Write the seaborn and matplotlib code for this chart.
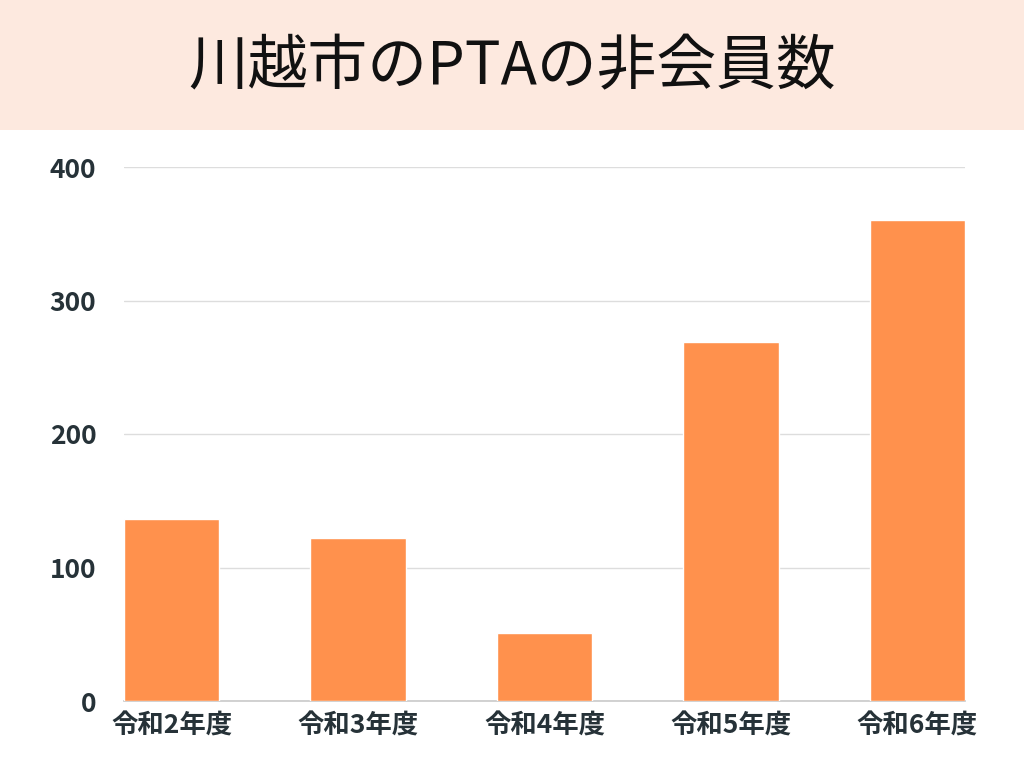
import matplotlib
matplotlib.use("Agg")
import matplotlib.pyplot as plt
import seaborn as sns
import pandas as pd

nendo = ['令和2年度', '令和3年度', '令和4年度', '令和5年度', '令和6年度']
hikaiin = [136, 122, 51, 269, 360]

df = pd.DataFrame({'年度': nendo, '非会員数': hikaiin})

sns.set_theme(style='white')
plt.rcParams['font.family'] = ['Noto Sans CJK JP', 'DejaVu Sans']

fig = plt.figure(figsize=(10.24, 7.68), dpi=100)
fig.patch.set_facecolor('white')

# タイトルの帯
fig.patches.append(plt.Rectangle((0, 1 - 130 / 768), 1, 130 / 768, transform=fig.transFigure,
                                 facecolor='#fde9df', edgecolor='none', zorder=0))
fig.text(0.5, 1 - 68 / 768, '川越市のPTAの非会員数', ha='center', va='center',
         fontsize=43, color='#111111', fontweight='normal')

ax = fig.add_axes([124 / 1024, 1 - 701 / 768, (965 - 124) / 1024, (701 - 167) / 768])
sns.barplot(data=df, x='年度', y='非会員数', color='#ff914d', width=0.51, saturation=1, ax=ax, zorder=3)

ax.set_xlim(-0.255, 4.255)
ax.set_ylim(0, 400)
ax.set_yticks([0, 100, 200, 300, 400])
ax.grid(axis='y', color='#dddddd', linewidth=1, zorder=0)
ax.set_axisbelow(True)
for s in ['top', 'right', 'left']:
    ax.spines[s].set_visible(False)
ax.spines['bottom'].set_color('#cccccc')
ax.set_xlabel('')
ax.set_ylabel('')
ax.tick_params(axis='y', length=0, pad=20, labelsize=19, labelcolor='#263238')
ax.tick_params(axis='x', length=0, pad=8, labelsize=19, labelcolor='#263238')
for lbl in ax.get_xticklabels() + ax.get_yticklabels():
    lbl.set_fontweight('bold')

plt.savefig('out.png', dpi=100)
